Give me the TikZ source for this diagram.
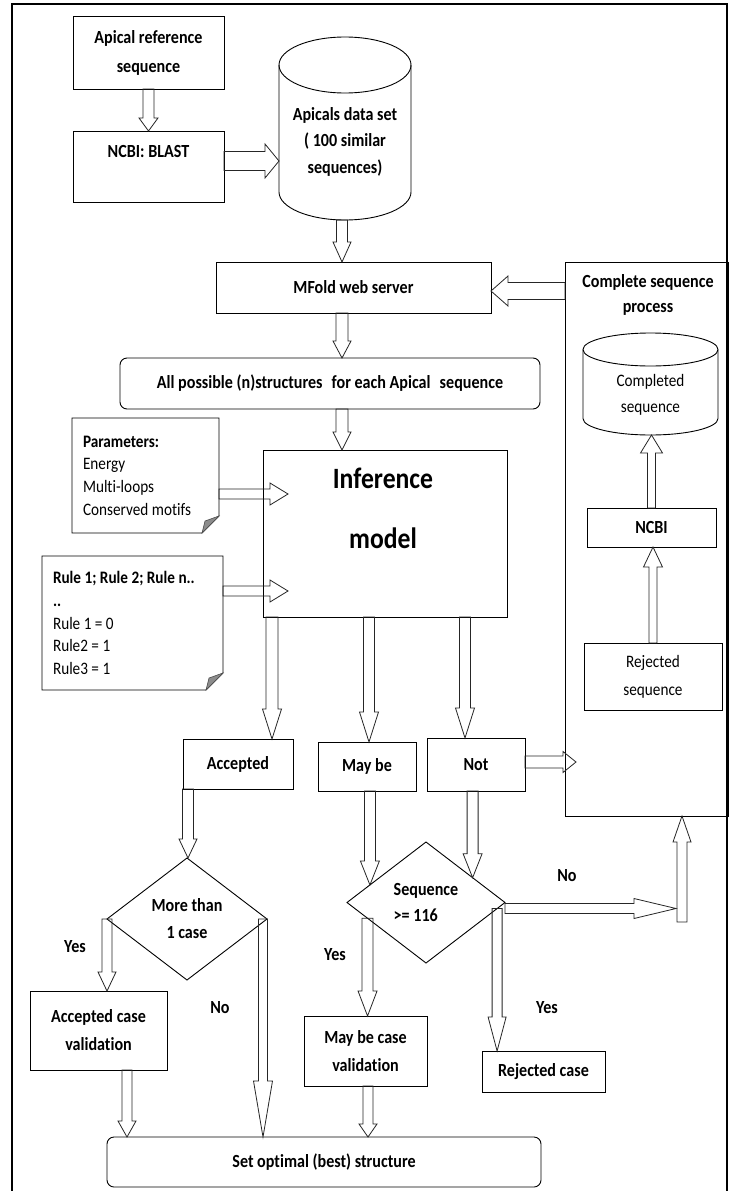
\documentclass[tikz,border=0pt]{standalone}
\usepackage{fontspec}
\setmainfont{Carlito}[FakeStretch=0.87, Ligatures=NoCommon]
\usetikzlibrary{calc,shapes.geometric}
\begin{document}
\begin{tikzpicture}[x=1pt,y=1pt,
  every node/.style={inner sep=0pt,outer sep=0pt},
  bf/.style={font=\fontsize{18.5}{29}\selectfont\bfseries},
  rg/.style={font=\fontsize{17.5}{26}\selectfont},
  box/.style={draw, line width=0.9pt, align=flush center, bf},
  rbox/.style={box, rounded corners=7pt},
  dia/.style={diamond, draw, line width=0.9pt, bf},
  txt/.style={align=flush center, bf},
  cylline/.style={draw, line width=0.9pt},
  note/.style={align=flush left, font=\fontsize{17.5}{22.7}\selectfont, inner xsep=11pt},
  bw/.store in=\baw, bh/.store in=\bah, bl/.store in=\bal,
  bw=5.5, bh=9.5, bl=22,
  barrow/.style={draw=black!85, line width=0.8pt, to path={
    let \p1=(\tikztostart), \p2=(\tikztotarget),
        \n1={atan2(\y2-\y1,\x2-\x1)}, \n2={veclen(\x2-\x1,\y2-\y1)-\bal}
    in ($(\p1)+(\n1+90:\baw)$) -- ($(\p1)+(\n1:\n2)+(\n1+90:\baw)$)
    -- ($(\p1)+(\n1:\n2)+(\n1+90:\bah)$) -- (\p2)
    -- ($(\p1)+(\n1:\n2)+(\n1-90:\bah)$) -- ($(\p1)+(\n1:\n2)+(\n1-90:\baw)$)
    -- ($(\p1)+(\n1-90:\baw)$) -- cycle}}
]
\useasboundingbox (0,0) rectangle (730,-1191);
\fill[white] (0,0) rectangle (730,-1191);
% outer frame
\draw[line width=1.3pt] (12,-1195) -- (12,-4) -- (727,-4) -- (727,-1195);

% ---------- top part ----------
\node[box, minimum width=151, minimum height=73] (apref) at (148.5,-52.5) {Apical reference\\sequence};
\node[box, minimum width=151, minimum height=71,
      label={[bf,yshift=15.5pt]center:{NCBI: BLAST}}] (blast) at (148.5,-166.5) {};

% cylinder 1
\node[minimum width=132, minimum height=184] (cyl1) at (345,-128) {};
\draw[cylline] (279,-65) -- (279,-192) arc[start angle=180,end angle=360,x radius=66,y radius=28] -- (411,-65);
\draw[cylline] (345,-65) ellipse[x radius=66,y radius=28];
\node[txt, font=\fontsize{18.5}{26.5}\selectfont\bfseries] (cyl1txt) at (345,-141.5) {Apicals data set\\( 100 similar\\sequences)};

\node[box, minimum width=275, minimum height=51] (mfold) at (353.5,-287.5) {MFold web server};
\node[rbox, minimum width=420, minimum height=51] (allp) at (330,-383.5)
  {All possible (n)structures\hspace{0.3em} for each Apical\hspace{0.3em} sequence};

% complete sequence process
\node[draw, line width=0.9pt, minimum width=163, minimum height=554] (csp) at (646.5,-539) {};
\node[txt, font=\fontsize{18.5}{25}\selectfont\bfseries] (csptxt) at (648,-294.5) {Complete sequence\\process};
\node[minimum width=135, minimum height=102] (cyl2) at (650.5,-384) {};
\draw[cylline] (583,-349.5) -- (583,-418.5) arc[start angle=180,end angle=360,x radius=67.5,y radius=16.5] -- (718,-349.5);
\draw[cylline] (650.5,-349.5) ellipse[x radius=67.5,y radius=16.5];
\node[align=flush center, rg] (cyl2txt) at (650.5,-395) {Completed\\sequence};
\node[box, minimum width=129, minimum height=39] (ncbi) at (651.5,-527.5) {NCBI};
\node[draw, line width=0.9pt, align=flush center, font=\fontsize{17.5}{28}\selectfont, minimum width=138, minimum height=67] (rejseq) at (653,-676.5) {Rejected\\sequence};

% notes
\node[note, text width=125, minimum height=115] (params) at (145.5,-475.5)
  {\textbf{Parameters:}\\Energy\\Multi-loops\\Conserved motifs};
\draw[line width=0.9pt] (params.north west) -- (params.north east) -- ([yshift=17pt]params.south east)
  -- ([xshift=-17pt]params.south east) -- (params.south west) -- cycle;
\filldraw[fill=black!45, draw=black!70, line width=0.6pt] ([yshift=17pt]params.south east) -- ([xshift=-17pt]params.south east) -- ([xshift=-14pt,yshift=12pt]params.south east) -- cycle;

\node[note, text width=159, minimum height=134] (rules) at (132.5,-623)
  {\textbf{Rule 1; Rule 2; Rule n..}\\\textbf{..}\\Rule 1 = 0\\Rule2 = 1\\Rule3 = 1};
\draw[line width=0.9pt] (rules.north west) -- (rules.north east) -- ([yshift=17pt]rules.south east)
  -- ([xshift=-17pt]rules.south east) -- (rules.south west) -- cycle;
\filldraw[fill=black!45, draw=black!70, line width=0.6pt] ([yshift=17pt]rules.south east) -- ([xshift=-17pt]rules.south east) -- ([xshift=-14pt,yshift=12pt]rules.south east) -- cycle;

% inference model
\node[draw, line width=0.9pt, minimum width=244, minimum height=167] (inf) at (385,-533.5) {};
\node[align=flush center, font=\fontsize{29.5}{60}\selectfont\bfseries] (inftxt) at (383,-508) {Inference\\model};

% outcome boxes
\node[box, minimum width=110, minimum height=50] (acc) at (238,-764) {Accepted};
\node[box, minimum width=98, minimum height=49] (maybe) at (367,-766.5) {May be};
\node[box, minimum width=98, minimum height=53] (nt) at (476,-764.5) {Not};

% decisions
\node[dia, align=flush center, font=\fontsize{18.5}{27}\selectfont\bfseries, minimum width=160, minimum height=122] (dia1) at (187,-919) {More than\\1 case};
\node[dia, align=flush left, font=\fontsize{18.5}{26}\selectfont\bfseries, minimum width=158, minimum height=121] (dia2) at (426,-902.5) {Sequence\\>= 116};

\node[box, font=\fontsize{18.5}{28}\selectfont\bfseries, minimum width=137, minimum height=79] (accv) at (98.5,-1030.5) {Accepted case\\validation};
\node[box, font=\fontsize{18.5}{28}\selectfont\bfseries, minimum width=123, minimum height=70] (maybev) at (365.5,-1051) {May be case\\validation};
\node[box, minimum width=123, minimum height=41] (rejc) at (543.5,-1071.5) {Rejected case};
\node[rbox, minimum width=434, minimum height=50] (setopt) at (324,-1162) {Set optimal (best) structure};

% labels
\node[bf] (yes1) at (75,-947) {Yes};
\node[bf] (no1) at (220,-1008) {No};
\node[bf] (yes2) at (335,-955) {Yes};
\node[bf] (no2) at (567,-876) {No};
\node[bf] (yes3) at (547,-1008) {Yes};

% ---------- coordinates for arrow ends ----------
\coordinate (b1) at ([yshift=5.5pt]blast.east);
\coordinate (c1) at ([xshift=-3pt]cyl1.south);
\coordinate (m1) at ([xshift=-11.5pt]mfold.south);
\coordinate (a1) at ([xshift=12pt]allp.south);
\coordinate (k1) at ([yshift=-29pt]csp.north west);
\coordinate (p1) at ([yshift=-18.5pt]params.east);
\coordinate (p2) at ($(p1 -| inf.west)+(25,0)$);
\coordinate (r1) at ([yshift=32pt]rules.east);
\coordinate (r2) at ($(r1 -| inf.west)+(25,0)$);
\coordinate (i1) at ([xshift=-113pt]inf.south);
\coordinate (i2) at ([xshift=-16pt]inf.south);
\coordinate (i3) at ([xshift=80pt]inf.south);
\coordinate (n1) at ([yshift=2.5pt]nt.east);
\coordinate (n2) at ($(n1 -| csp.west)+(11,0)$);
\coordinate (a2) at ([xshift=-50pt]acc.south);
\coordinate (d2a) at ($(dia2.west)!0.29!(dia2.north)$);
\coordinate (d2b) at ($(dia2.north)!0.59!(dia2.east)$);
\coordinate (d2c) at ($(dia2.east)!0.1!(dia2.south)$);
\coordinate (d2d) at ($(dia2.west)!0.26!(dia2.south)$);
\coordinate (d2e) at ([yshift=-6pt]dia2.east);
\coordinate (upbase) at (682,-922);
\coordinate (u2) at ($(d2e -| upbase)+(-6,0)$);
\coordinate (d1e) at ([xshift=-4pt]dia1.east);
\coordinate (av) at ([xshift=28.5pt]accv.south);
\coordinate (mv) at ([xshift=2.5pt]maybev.south);

% ---------- block arrows ----------
\draw[barrow, bw=5.5, bh=9.5, bl=13] (apref.south) to (blast.north);
\draw[barrow, bw=9.5, bh=17, bl=14] (b1) to (b1 -| cyl1.west);
\draw[barrow, bw=5.5, bh=9, bl=20] (c1) to (c1 |- mfold.north);
\draw[barrow, bw=6, bh=9, bl=17] (m1) to (m1 |- allp.north);
\draw[barrow, bw=6, bh=9, bl=18] (a1) to (a1 |- inf.north);
\draw[barrow, bw=8.5, bh=15, bl=17] (k1) to (k1 -| mfold.east);
\draw[barrow, bw=5, bh=11, bl=18] (p1) to (p2);
\draw[barrow, bw=5, bh=11, bl=18] (r1) to (r2);
\draw[barrow, bw=6, bh=9.5, bl=30] (i1) to (i1 |- acc.north);
\draw[barrow, bw=5.5, bh=9.5, bl=30] (i2) to (i2 |- maybe.north);
\draw[barrow, bw=5.5, bh=9.5, bl=30] (i3) to (i3 |- nt.north);
\draw[barrow, bw=6, bh=10.5, bl=13] (n1) to (n2);
\draw[barrow, bw=4, bh=9.5, bl=20] (rejseq.north) to (rejseq.north |- ncbi.south);
\draw[barrow, bw=4, bh=11, bl=18] (ncbi.north) to (ncbi.north |- cyl2.south);
\draw[barrow, bw=5.5, bh=9, bl=19] (a2) to (a2 |- dia1.north);
\draw[barrow, bw=5.5, bh=9.5, bl=24] (d2a |- maybe.south) to (d2a);
\draw[barrow, bw=5.5, bh=9.5, bl=24] (d2b |- nt.south) to (d2b);
\draw[barrow, bw=5, bh=9, bl=34] (d2c) to (d2c |- rejc.north);
\draw[barrow, bw=5.5, bh=9.5, bl=25] (d2d) to (d2d |- maybev.north);
\draw[barrow, bw=5, bh=10, bl=42] (d2e) to (u2);
\draw[barrow, bw=5, bh=9, bl=26] (upbase) to (upbase |- csp.south);
\draw[barrow, bw=5, bh=9, bl=19] (dia1.west) to (dia1.west |- accv.north);
\draw[barrow, bw=4.5, bh=9.5, bl=56] (d1e) to (d1e |- setopt.north);
\draw[barrow, bw=5, bh=9, bl=16] (av) to (av |- setopt.north);
\draw[barrow, bw=5, bh=9, bl=13] (mv) to (mv |- setopt.north);
\end{tikzpicture}
\end{document}
